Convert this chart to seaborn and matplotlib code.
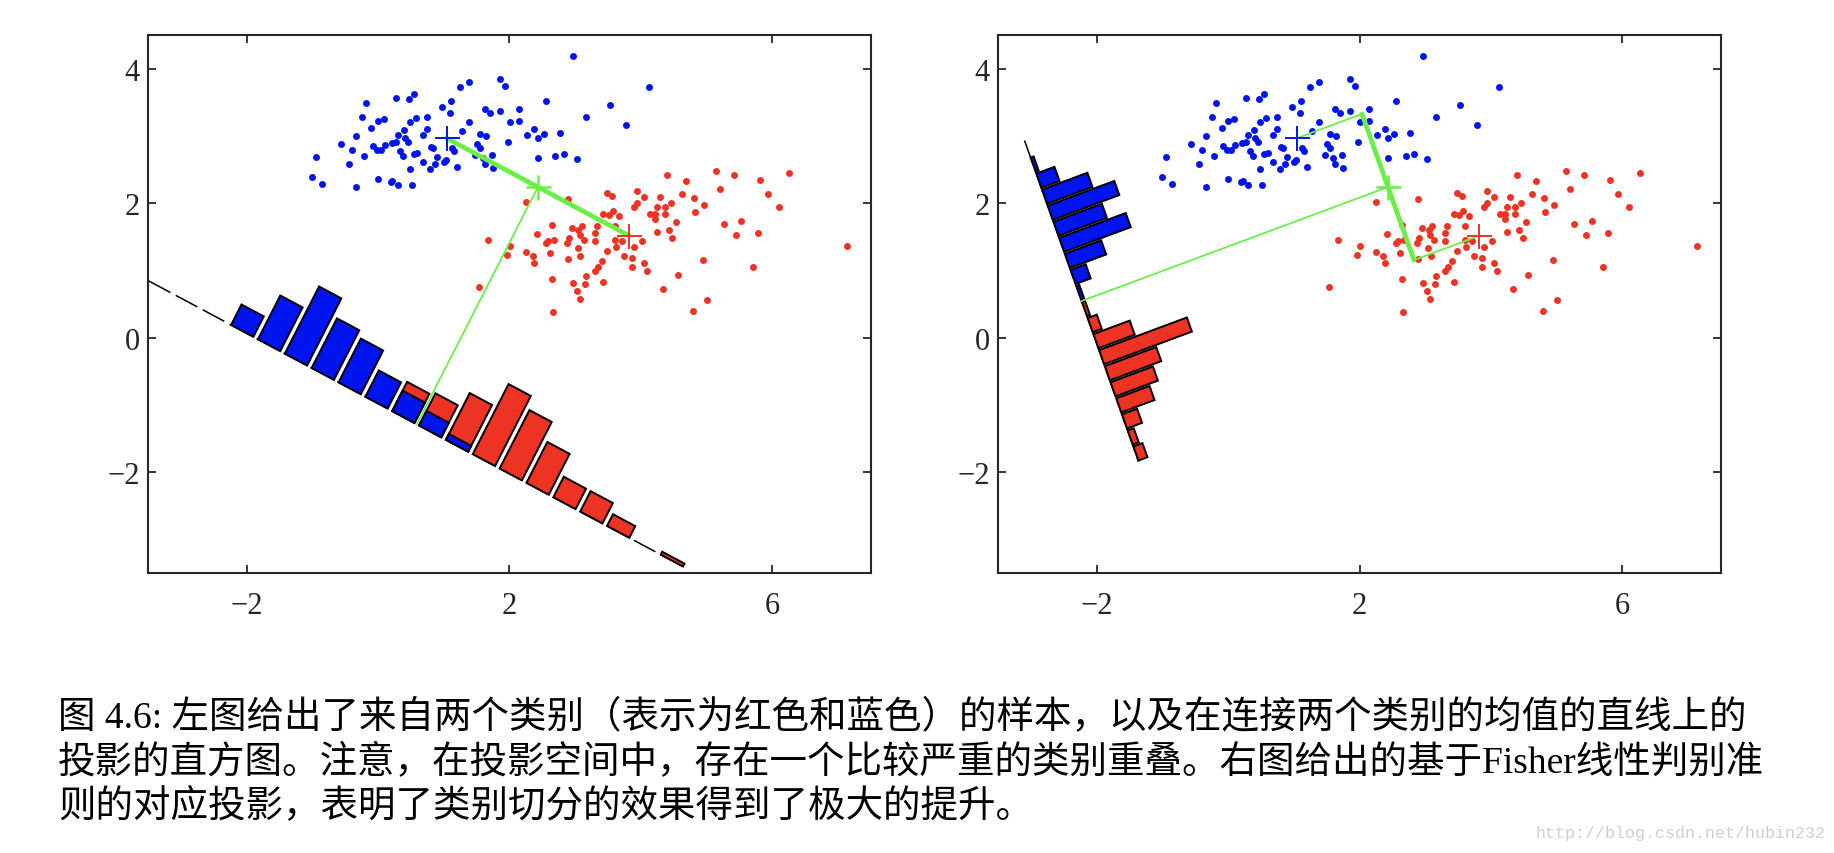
import numpy as np
import matplotlib
matplotlib.use('Agg')
import matplotlib.pyplot as plt
from matplotlib.patches import Polygon
import seaborn as sns

# samples of the two classes
blue_x = [2.96, 4.12, 1.85, 1.93, 1.38, 1.24, 0.55, 0.47, 0.27, -0.19,
          1.11, 0.97, 1.09, 1.63, 1.70, 1.85, 2.14, 2.56, 3.53, 3.17,
          3.78, -0.25, 0.00, 0.09, 0.48, 0.58, 0.74, -0.10, 0.39, 0.75,
          1.38, 2.01, 2.15, -0.34, 0.30, 0.69, 1.28, 1.55, 1.64, 2.26,
          2.38, 2.44, 2.52, 2.77, -0.56, -0.08, -0.02, 0.04, 0.11, 0.21,
          0.27, 0.41, 0.45, -0.39, -0.22, 0.33, 0.38, 0.55, 0.60, 0.80,
          0.84, 0.89, 1.12, 1.16, 1.50, 1.55, 1.98, 1.47, 1.74, 1.59,
          1.63, 1.75, 2.44, 2.70, 2.83, 3.03, -0.95, -0.44, 0.69, 0.87,
          1.01, 1.04, 1.20, 0.79, 0.49, -1.01, -0.86, -0.33, 0.00, 0.19,
          0.22, 0.30, 0.52]
blue_y = [4.19, 3.73, 3.85, 3.75, 3.81, 3.73, 3.63, 3.56, 3.57, 3.49,
          3.53, 3.43, 3.34, 3.40, 3.34, 3.37, 3.40, 3.52, 3.46, 3.28,
          3.16, 3.28, 3.23, 3.26, 3.21, 3.27, 3.29, 3.12, 3.10, 3.11,
          3.21, 3.21, 3.23, 3.00, 3.02, 3.02, 3.08, 3.04, 3.00, 3.02,
          3.11, 2.98, 3.03, 3.05, 2.88, 2.85, 2.80, 2.80, 2.87, 2.90,
          2.92, 2.97, 2.91, 2.79, 2.71, 2.78, 2.71, 2.73, 2.75, 2.84,
          2.82, 2.69, 2.82, 2.78, 2.88, 2.82, 2.92, 2.72, 2.72, 2.67,
          2.58, 2.53, 2.68, 2.71, 2.74, 2.66, 2.69, 2.58, 2.62, 2.58,
          2.62, 2.65, 2.55, 2.51, 2.51, 2.39, 2.29, 2.25, 2.37, 2.32,
          2.34, 2.28, 2.27]
red_x = [2.25, 2.89, 4.40, 5.14, 5.41, 6.26, 4.69, 5.81, 5.20, 3.48,
         3.56, 3.94, 4.05, 4.62, 4.29, 4.80, 5.93, 4.45, 3.90, 3.94,
         4.24, 4.37, 4.96, 6.10, 3.57, 3.43, 3.51, 3.67, 4.14, 4.22,
         4.37, 4.82, 4.22, 4.54, 5.53, 5.26, 2.65, 2.95, 3.10, 3.05,
         3.33, 3.61, 2.42, 3.07, 3.30, 2.91, 2.67, 2.58, 2.55, 2.87,
         3.14, 3.30, 3.60, 3.71, 4.02, 4.43, 4.24, 4.48, 5.45, 5.78,
         1.67, 2.01, 1.96, 2.25, 2.36, 2.38, 2.61, 3.04, 3.08, 2.89,
         3.48, 3.62, 3.74, 3.90, 3.86, 3.41, 3.35, 4.04, 3.87, 4.09,
         3.30, 3.17, 2.65, 2.97, 3.15, 3.43, 4.57, 4.95, 5.71, 3.02,
         3.07, 4.33, 5.01, 4.79, 2.66, 1.53, 7.14]
red_y = [2.02, 2.07, 2.42, 2.49, 2.42, 2.46, 2.34, 2.35, 2.22, 2.16,
         2.11, 2.19, 2.10, 2.14, 2.09, 2.08, 2.14, 2.01, 1.95, 2.00,
         1.95, 1.95, 1.98, 1.95, 1.89, 1.84, 1.83, 1.81, 1.85, 1.85,
         1.85, 1.87, 1.77, 1.73, 1.74, 1.69, 1.68, 1.64, 1.66, 1.61,
         1.67, 1.66, 1.55, 1.53, 1.56, 1.49, 1.46, 1.44, 1.41, 1.41,
         1.45, 1.44, 1.46, 1.44, 1.44, 1.60, 1.57, 1.49, 1.53, 1.56,
         1.45, 1.37, 1.24, 1.28, 1.22, 1.11, 1.26, 1.34, 1.22, 1.17,
         1.29, 1.35, 1.22, 1.35, 1.19, 1.15, 1.06, 1.12, 1.06, 1.00,
         0.99, 0.92, 0.87, 0.82, 0.80, 0.83, 0.94, 1.16, 1.06, 0.70,
         0.58, 0.73, 0.57, 0.40, 0.39, 0.76, 1.37]

blue_mean = [1.045, 2.97]
red_mean = [3.82, 1.52]

# Fisher direction (right panel)
fisher_dir = [0.342, -0.940]

# histogram counts along the projection axis
# left: bins of width 0.461, bin k centred at (k - 6.5) * width
left_bin_width = 0.461
left_blue_first = 0
left_blue_counts = [7, 15, 23, 17, 15, 9, 7, 5, 2]
left_red_first = 6
left_red_counts = [10, 11, 16, 24, 20, 14, 7, 7, 4, 0, 1]
# right: bins of width 0.254, bin k centred at (k - 8.5) * width
right_bin_width = 0.254
right_blue_first = 0
right_blue_counts = [1, 6, 15, 22, 16, 22, 12, 5, 1]
right_red_first = 9
right_red_counts = [1, 3, 12, 29, 17, 14, 11, 5, 2, 3]

caption_lines = [
    '图 4.6: 左图给出了来自两个类别（表示为红色和蓝色）的样本，以及在连接两个类别的均值的直线上的',
    '投影的直方图。注意，在投影空间中，存在一个比较严重的类别重叠。右图给出的基于Fisher线性判别准',
    '则的对应投影，表明了类别切分的效果得到了极大的提升。',
]

BLUE = '#0014EE'
RED = '#EC3324'
GREEN = '#6CEE48'

sns.set_style('ticks')
plt.rcParams['font.family'] = ['Liberation Serif', 'Noto Sans CJK SC']
plt.rcParams['axes.unicode_minus'] = True


def draw_panel(ax, direction, offset, bin_width, centre_idx, bar_frac,
               line_extent, blue_first, blue_counts, red_first, red_counts):
    """Scatter of both classes plus the projected histograms."""
    d = np.asarray(direction, float)
    d = d / np.linalg.norm(d)
    n = np.array([-d[1], d[0]])
    if n[0] < 0:
        n = -n
    m1 = np.asarray(blue_mean)
    m2 = np.asarray(red_mean)
    mid = (m1 + m2) / 2
    foot = mid - offset * n
    scale = 0.049  # data units per count

    # dashed projection axis
    a = foot - line_extent * d
    b = foot + line_extent * d
    ax.plot([a[0], b[0]], [a[1], b[1]], color='black', lw=1.1,
            linestyle=(0, (16, 4)), zorder=2)

    def bars(first, counts, color):
        hw = bar_frac * bin_width / 2
        for i, c in enumerate(counts):
            if c == 0:
                continue
            t = (first + i - centre_idx) * bin_width
            cen = foot + t * d
            h = c * scale
            pts = [cen - hw * d, cen + hw * d, cen + hw * d + h * n,
                   cen - hw * d + h * n]
            ax.add_patch(Polygon(pts, closed=True, facecolor=color,
                                 edgecolor='black', lw=1.4, zorder=3))

    bars(red_first, red_counts, RED)
    bars(blue_first, blue_counts, BLUE)

    sns.scatterplot(x=blue_x, y=blue_y, color=BLUE, s=25, linewidth=0,
                    ax=ax, zorder=4)
    sns.scatterplot(x=red_x, y=red_y, color=RED, s=25, linewidth=0,
                    ax=ax, zorder=4)

    # projections of the means on the line through the midpoint
    p1 = mid + np.dot(m1 - mid, d) * d
    p2 = mid + np.dot(m2 - mid, d) * d
    ax.plot([m1[0], p1[0]], [m1[1], p1[1]], color=GREEN, lw=1.3, zorder=5)
    ax.plot([m2[0], p2[0]], [m2[1], p2[1]], color=GREEN, lw=1.3, zorder=5)
    ax.plot([p1[0], p2[0]], [p1[1], p2[1]], color=GREEN, lw=3.4, zorder=5)
    ax.plot([mid[0], foot[0]], [mid[1], foot[1]], color=GREEN, lw=1.3,
            zorder=5)

    ax.plot(m1[0], m1[1], marker='+', color=BLUE, ms=18, mew=1.4, zorder=6)
    ax.plot(m2[0], m2[1], marker='+', color=RED, ms=18, mew=1.4, zorder=6)
    ax.plot(mid[0], mid[1], marker='+', color=GREEN, ms=18, mew=1.8,
            zorder=6)

    ax.set_xlim(-3.5, 7.5)
    ax.set_ylim(-3.5, 4.5)
    ax.set_xticks([-2, 2, 6])
    ax.set_yticks([-2, 0, 2, 4])
    ax.tick_params(direction='in', length=6, width=1.3, top=True,
                   right=True, labelsize=22)
    ax.tick_params(axis='x', pad=13)
    ax.tick_params(axis='y', pad=6)
    for sp in ax.spines.values():
        sp.set_visible(True)
        sp.set_linewidth(1.5)
    ax.set_xlabel('')
    ax.set_ylabel('')


fig = plt.figure(figsize=(18.34, 8.54), dpi=100)
ax_l = fig.add_axes([0.0807, 0.3275, 0.3942, 0.6299])
ax_r = fig.add_axes([0.5442, 0.3275, 0.3942, 0.6299])

left_dir = np.asarray(red_mean) - np.asarray(blue_mean)
draw_panel(ax_l, left_dir, 3.98, left_bin_width, 6.5, 0.83, 4.6,
           left_blue_first, left_blue_counts, left_red_first, left_red_counts)
draw_panel(ax_r, fisher_dir, 4.96, right_bin_width, 8.5, 0.88, 2.54,
           right_blue_first, right_blue_counts, right_red_first,
           right_red_counts)

# caption
for i, line in enumerate(caption_lines):
    fig.text(0.0316, 0.1605 - i * 0.053, line, fontsize=27, va='center',
             ha='left', color='black')

fig.text(0.9955, 0.024, 'http://blog.csdn.net/hubin232', fontsize=12,
         family='Liberation Mono', color='#cfcfcf', ha='right', va='center')

fig.savefig('out.png', dpi=100)
